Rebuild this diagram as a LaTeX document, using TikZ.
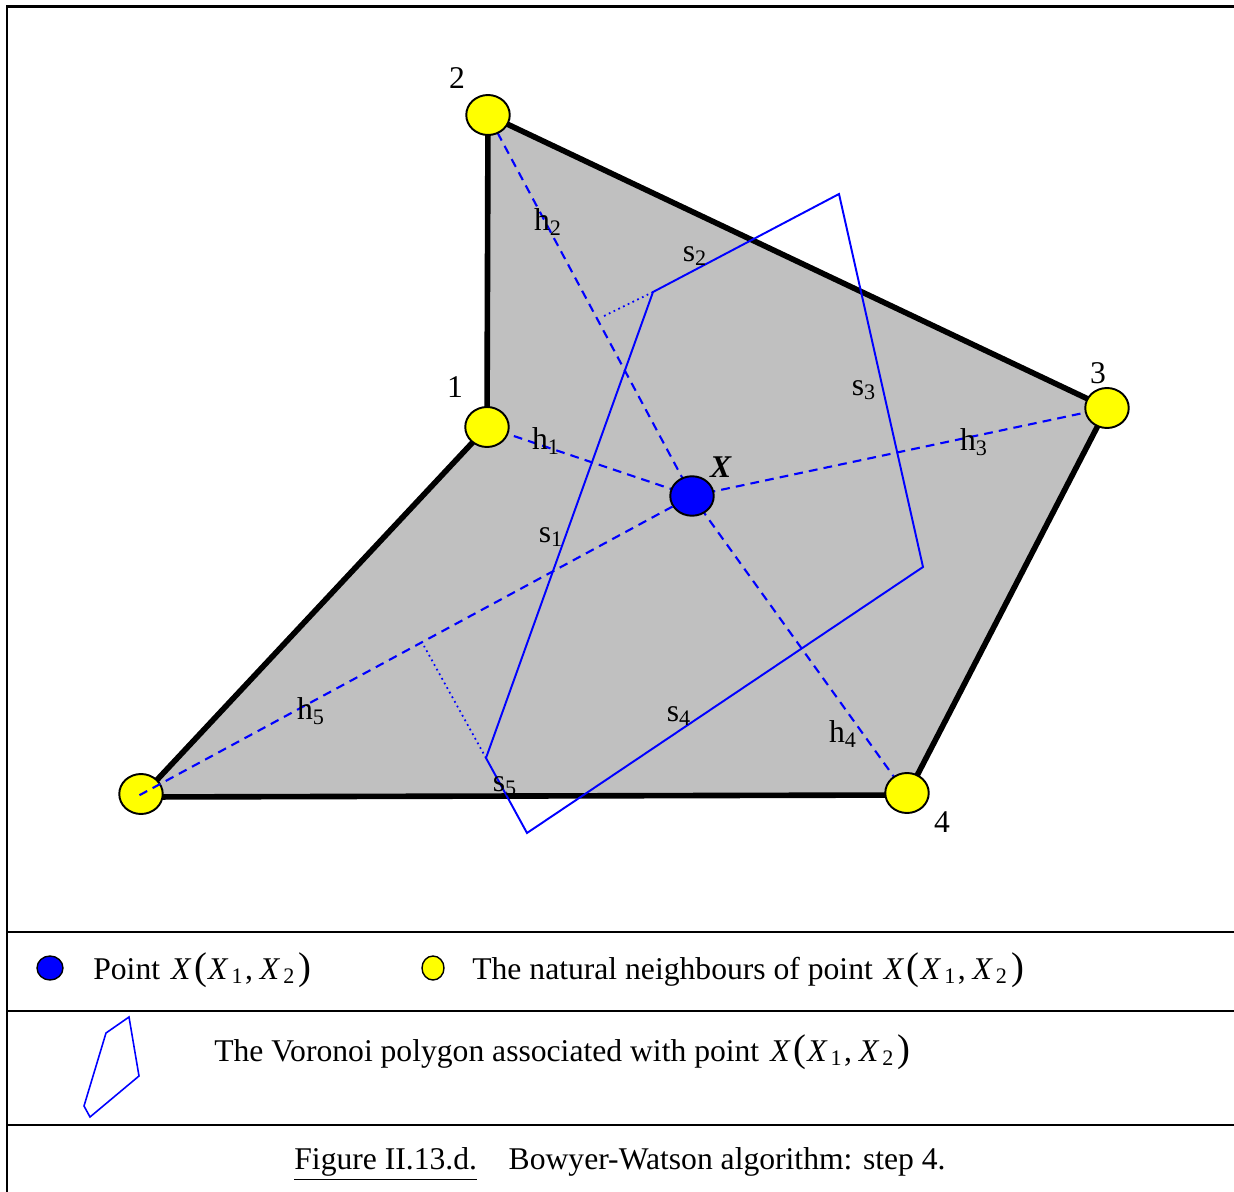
\documentclass[tikz,border=0pt]{standalone}
\usepackage{fontspec}
\setmainfont{Liberation Serif}
\usetikzlibrary{arrows.meta, positioning, calc, shapes.geometric}
\definecolor{cellgray}{HTML}{C0C0C0}
\definecolor{nbryellow}{HTML}{FFFF00}
\definecolor{ptblue}{HTML}{0000FF}
\newcommand{\bigpar}[1]{{\fontsize{22}{22}\selectfont #1}}
\newcommand{\ptX}{\hspace{0.35em}\textit{X}\kern0.08em\bigpar{(}\kern0.04em\textit{X}\kern0.06em\textsubscript{\kern0.05em 1}\kern0.05em,\kern0.22em\textit{X}\kern0.06em\textsubscript{\kern0.05em 2}\kern0.1em\bigpar{)}}

\begin{document}
\begin{tikzpicture}[x=0.02cm, y=-0.02cm,
    font=\fontsize{18}{21}\selectfont,
    nbr/.style={ellipse, draw, line width=1.1pt, fill=nbryellow,
      minimum width=0.87cm, minimum height=0.8cm, inner sep=0pt},
    ptx/.style={ellipse, draw, line width=1.1pt, fill=ptblue,
      minimum width=0.87cm, minimum height=0.79cm, inner sep=0pt},
    edge/.style={line width=3.2pt, line join=round},
    hline/.style={ptblue, line width=1.2pt, dash pattern=on 5pt off 3.5pt},
    sline/.style={ptblue, line width=1.1pt, line join=miter},
    foot/.style={ptblue, line width=1pt, dotted},
    rule/.style={line width=1.4pt},
    lbl/.style={inner sep=0pt}
  ]
  \useasboundingbox (0,0) rectangle (1234,1192);
  % outer frame and legend rows
  \draw[line width=1.7pt] (1234,7) -- (7,7) -- (7,1192);
  \draw[rule] (7,932) -- (1234,932);
  \draw[rule] (7,1011) -- (1234,1011);
  \draw[rule] (7,1125) -- (1234,1125);

  % natural neighbours and the point
  \coordinate (c1) at (487,427);
  \coordinate (c2) at (488,115);
  \coordinate (c3) at (1107,408);
  \coordinate (c4) at (907,795);
  \coordinate (c5) at (141,797);
  \coordinate (cx) at (692,496);

  \fill[cellgray] (c1) -- (c2) -- (c3) -- (c4) -- (c5) -- cycle;
  \draw[edge] (c1) -- (c2) -- (c3) -- (c4) -- (c5) -- cycle;

  \draw[hline] (cx) -- (c1);
  \draw[hline] (cx) -- (c2);
  \draw[hline] (cx) -- (c3);
  \draw[hline] (cx) -- (c4);

  % Voronoi polygon of X
  \coordinate (v1) at (653,292);
  \coordinate (v2) at (839,194);
  \coordinate (v3) at (923,567);
  \coordinate (v4) at (527,833);
  \coordinate (v5) at (486,758);
  \draw[sline] (v1) -- (v2) -- (v3) -- (v4) -- (v5) -- cycle;
  \coordinate (f2) at (602,317);
  \coordinate (f5) at (424,646);
  \draw[foot] (v1) -- (f2);
  \draw[foot] (v5) -- (f5);

  \node[nbr] (n1) at (c1) {};
  \node[nbr] (n2) at (c2) {};
  \node[nbr] (n3) at (c3) {};
  \node[nbr] (n4) at ($(c4)+(0,-2)$) {};
  \node[nbr] (n5) at ($(c5)+(0,-3)$) {};
  \node[ptx] (x) at (cx) {};
  \draw[hline] (x) -- ($(n5.center)+(-3,2)$);

  % labels
  \node[lbl] at (455,387) {1};
  \node[lbl] at (457,78) {2};
  \node[lbl] at (1098,373) {3};
  \node[lbl] at (942,822) {4};
  \node[lbl] at (721,467) {\textbf{\textit{X}}};
  \node[lbl] at (546,441) {h\textsubscript{1}};
  \node[lbl] at (548,222) {h\textsubscript{2}};
  \node[lbl] at (974,442) {h\textsubscript{3}};
  \node[lbl] at (843,734) {h\textsubscript{4}};
  \node[lbl] at (311,711) {h\textsubscript{5}};
  \node[lbl] at (551,537) {s\textsubscript{1}};
  \node[lbl] at (695,256) {s\textsubscript{2}};
  \node[lbl] at (864,390) {s\textsubscript{3}};
  \node[lbl] at (679,716) {s\textsubscript{4}};
  \node[lbl] at (505,786) {s\textsubscript{5}};

  % legend
  \node[ptx, minimum width=0.52cm, minimum height=0.48cm, line width=0.8pt] (keyx) at (50,968) {};
  \node[lbl, anchor=west] (keyxtxt) at (93,970) {Point\ptX};
  \node[nbr, minimum width=0.44cm, minimum height=0.48cm, line width=0.8pt] (keyn) at (433,968) {};
  \node[lbl, anchor=west] (keyntxt) at (472,970) {The natural neighbours of point\ptX};
  \draw[sline, line width=0.9pt] (129,1017) -- (106,1033) -- (84,1106) -- (90,1117) -- (139,1076) -- cycle;
  \node[lbl, anchor=west] (keyvtxt) at (214,1052) {The Voronoi polygon associated with point\ptX};
  \node[lbl] (caption) at (620,1164) {\underline{Figure II.13.d.}\quad Bowyer-Watson algorithm: step 4.};
\end{tikzpicture}
\end{document}
